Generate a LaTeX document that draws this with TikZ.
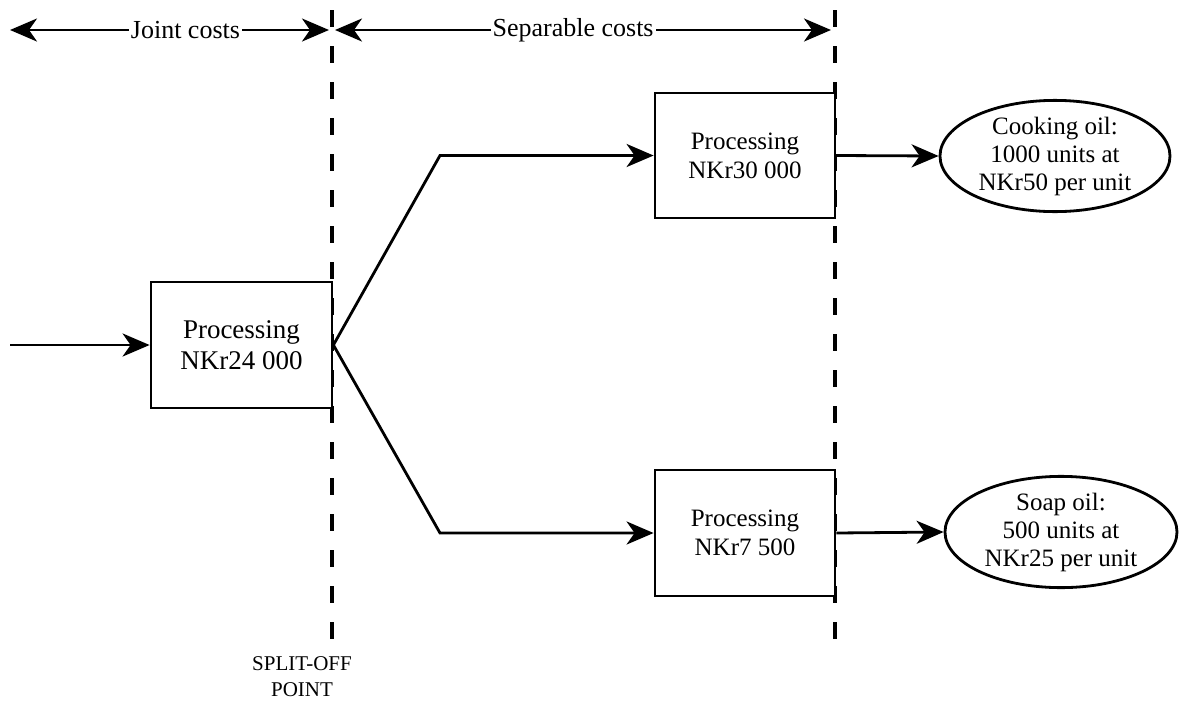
\documentclass[tikz,border=0pt]{standalone}
\usepackage{fontspec}
\setmainfont{Liberation Serif}
\usetikzlibrary{arrows.meta,shapes.geometric}
\begin{document}
\begin{tikzpicture}[x=1pt,y=-1pt,
  line width=2.8pt,
  tip/.style={-{Stealth[length=27pt,width=23pt,inset=8pt]}},
  tips/.style={{Stealth[length=27pt,width=23pt,inset=8pt]}-{Stealth[length=27pt,width=23pt,inset=8pt]}},
  procbox/.style={draw,rectangle,align=center,font=\fontsize{25}{29}\selectfont},
  prodell/.style={draw,ellipse,align=center,inner sep=0pt,font=\fontsize{25}{28}\selectfont},
  divider/.style={line width=3.4pt,dash pattern=on 17pt off 19pt},
  lbl/.style={fill=white,inner xsep=2pt,inner ysep=2pt,font=\fontsize{26}{30}\selectfont}]
\useasboundingbox (0,0) rectangle (1195,702);
% dividers
\coordinate (d1t) at (332,10);
\coordinate (d1b) at (332,642);
\coordinate (d2t) at (835,10);
\coordinate (d2b) at (835,642);
\draw[divider] (d1t) -- (d1b);
\draw[divider] (d2t) -- (d2b);
% nodes
\node[procbox,minimum width=181pt,minimum height=126pt,fill=white,font=\fontsize{27}{31}\selectfont] (b1) at (241.5,345) {Processing\\NKr24 000};
\node[procbox,minimum width=180pt,minimum height=125pt,fill=white] (b2) at (745,155.5) {Processing\\NKr30 000};
\node[procbox,minimum width=180pt,minimum height=126pt,fill=white] (b3) at (745,533) {Processing\\NKr7 500};
\node[prodell,minimum width=230pt,minimum height=84pt] (e1) at (1055,156) {Cooking oil:\\1000 units at\\NKr50 per unit};
\node[prodell,minimum width=232pt,minimum height=88pt] (e2) at (1061,532) {Soap oil:\\500 units at\\NKr25 per unit};
\node[align=center,font=\fontsize{21}{26}\selectfont] (so) at (302,677) {SPLIT-OFF\\POINT};
% top ranges
\coordinate (j1) at (10,30);
\coordinate (j2) at (329,30);
\coordinate (s1) at (335,30);
\coordinate (s2) at (831,30);
\draw[tips] (j1) -- node[lbl,pos=0.55] (jl) {Joint costs} (j2);
\draw[tips] (s1) -- node[lbl,pos=0.48] (sl) {Separable costs} (s2);
% flows
\coordinate (in) at (10,345);
\coordinate (up) at (440,155.5);
\coordinate (dn) at (440,533);
\draw[tip] (in) -- (b1.west);
\draw[tip] (b1.east) -- (up) -- (b2.west);
\draw[tip] (b1.east) -- (dn) -- (b3.west);
\draw[tip] (b2.east) -- (e1.west);
\draw[tip] (b3.east) -- (e2.west);
\end{tikzpicture}
\end{document}
